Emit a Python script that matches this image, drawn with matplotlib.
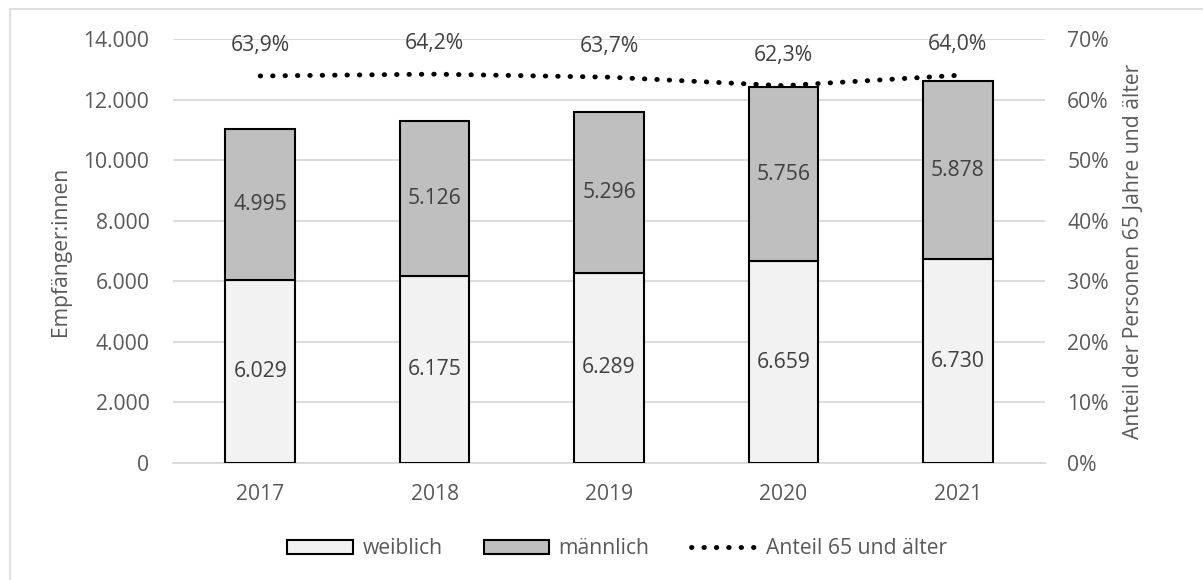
import matplotlib
matplotlib.use("Agg")
import matplotlib.pyplot as plt
from matplotlib.patches import Rectangle
from matplotlib.ticker import FuncFormatter

years = ["2017", "2018", "2019", "2020", "2021"]
weiblich = [6029, 6175, 6289, 6659, 6730]
maennlich = [4995, 5126, 5296, 5756, 5878]
anteil_65 = [63.9, 64.2, 63.7, 62.3, 64.0]

TEXT = "#595959"
GRID = "#D9D9D9"
FS = 15.2

plt.rcParams["font.family"] = ["Open Sans", "DejaVu Sans"]
plt.rcParams["font.size"] = FS


def de_num(v):
    return f"{int(round(v)):,}".replace(",", ".")


fig = plt.figure(figsize=(12.03, 5.8), dpi=100)
ax = fig.add_axes([173 / 1203, 1 - 463 / 580, 872 / 1203, 424 / 580])
ax2 = ax.twinx()

x = list(range(len(years)))
b1 = ax.bar(x, weiblich, width=0.4, color="#F2F2F2", edgecolor="black",
            linewidth=1.5, label="weiblich", zorder=3)
b2 = ax.bar(x, maennlich, width=0.4, bottom=weiblich, color="#BFBFBF",
            edgecolor="black", linewidth=1.5, label="männlich", zorder=3)

for i in x:
    ax.text(i, weiblich[i] / 2, de_num(weiblich[i]), ha="center", va="center",
            color="#404040", fontsize=FS, zorder=4)
    ax.text(i, weiblich[i] + maennlich[i] / 2, de_num(maennlich[i]),
            ha="center", va="center", color="#404040", fontsize=FS, zorder=4)

ax.set_xlim(-0.5, len(years) - 0.5)
ax.set_ylim(0, 14000)
ax.set_yticks(range(0, 14001, 2000))
ax.yaxis.set_major_formatter(FuncFormatter(lambda v, p: de_num(v)))
ax.set_xticks(x)
ax.set_xticklabels(years)
ax.grid(axis="y", color=GRID, linewidth=1.3, zorder=0)
ax.set_axisbelow(True)
ax.tick_params(axis="y", length=0, pad=17, colors=TEXT, labelsize=FS)
ax.tick_params(axis="x", length=0, pad=15, colors=TEXT, labelsize=FS)
for s in ax.spines.values():
    s.set_visible(False)
ax.spines["bottom"].set_visible(True)
ax.spines["bottom"].set_color(GRID)
ax.spines["bottom"].set_linewidth(1.3)
ax.set_ylabel("Empfänger:innen", color=TEXT, fontsize=FS, labelpad=9)

ln, = ax2.plot(x, anteil_65, color="black", linewidth=3.5,
               linestyle=(0, (0.1, 2.45)), dash_capstyle="round",
               label="Anteil 65 und älter", zorder=5)
for i in x:
    ax2.annotate(f"{anteil_65[i]:.1f}%".replace(".", ","), (i, anteil_65[i]),
                 xytext=(0, 22), textcoords="offset points", ha="center",
                 va="center", color="#404040", fontsize=FS)
ax2.set_ylim(0, 70)
ax2.set_yticks(range(0, 71, 10))
ax2.yaxis.set_major_formatter(FuncFormatter(lambda v, p: f"{int(v)}%"))
ax2.tick_params(axis="y", length=0, pad=16, colors=TEXT, labelsize=FS)
for s in ax2.spines.values():
    s.set_visible(False)
ax2.set_ylabel("Anteil der Personen 65 Jahre und älter", color=TEXT,
               fontsize=FS, labelpad=10)

fig.legend([b1, b2, ln], ["weiblich", "männlich", "Anteil 65 und älter"],
           loc="center", bbox_to_anchor=(0.513, 1 - 549 / 580), ncol=3,
           frameon=False, handlelength=3.1, handleheight=0.6,
           columnspacing=1.95, handletextpad=0.45, labelcolor=TEXT,
           fontsize=FS)

fig.patches.append(Rectangle((10 / 1203, -0.01), 1.0, 1 - 9 / 580 + 0.01,
                             transform=fig.transFigure, fill=False,
                             edgecolor=GRID, linewidth=1.2))

fig.savefig("out.png", dpi=100)
